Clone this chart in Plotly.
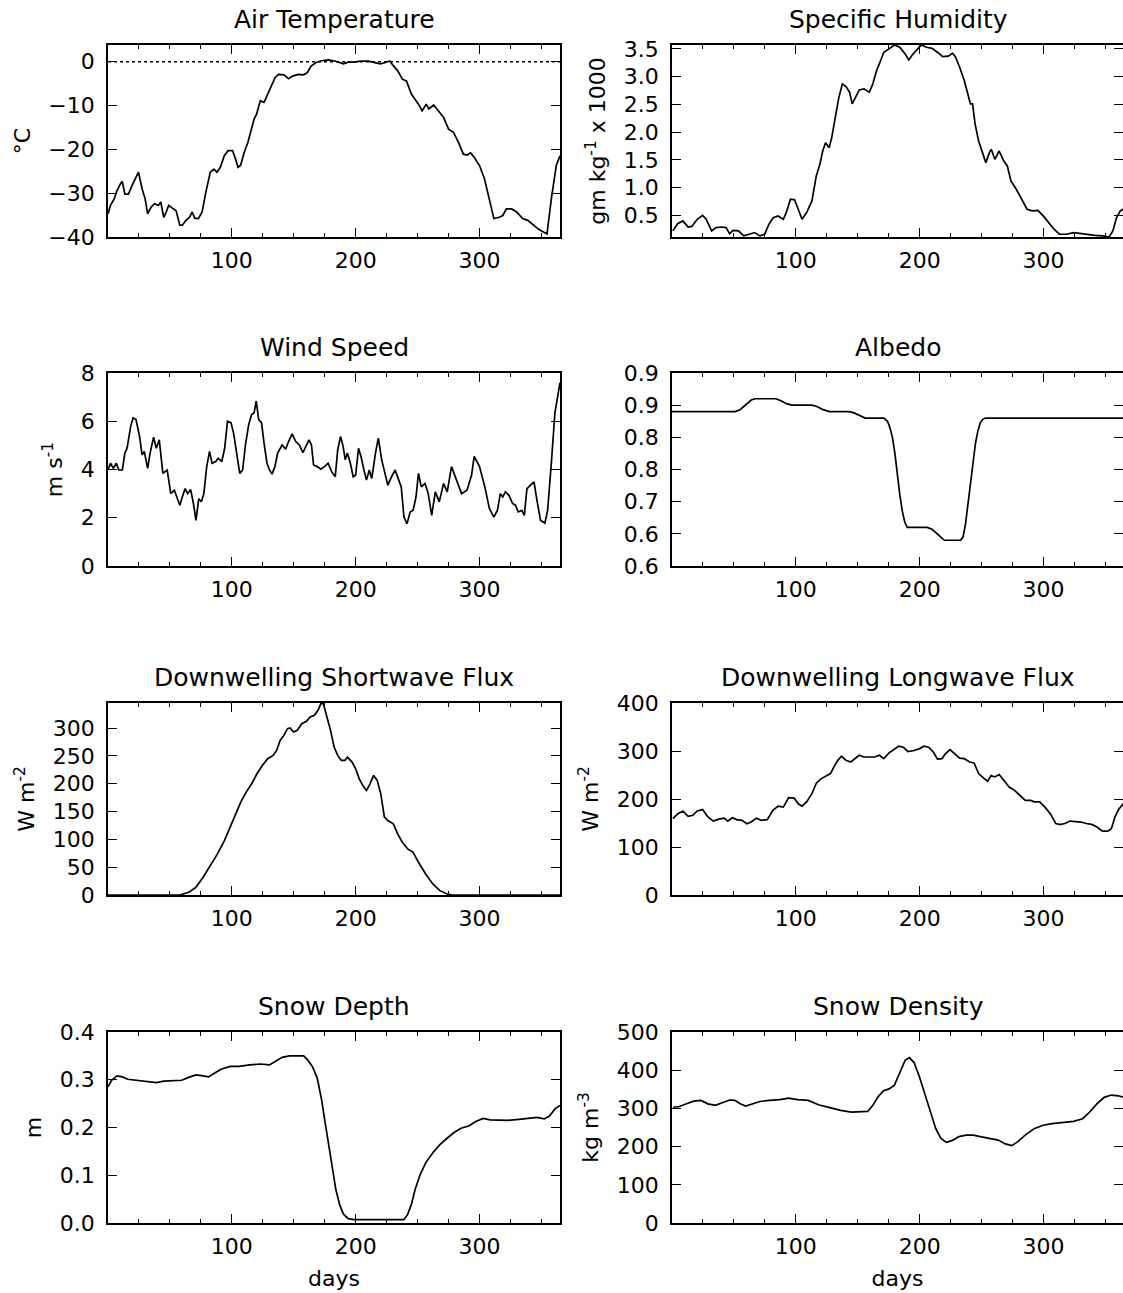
import plotly.graph_objects as go

# ---------------- data ----------------
air_day = [0, 2, 5, 7, 10, 11.5, 13.6, 16.5, 19.4, 23, 24.6, 27.5, 30, 32, 35, 37.7, 40.6, 42.6, 45, 47, 49,
           52, 55, 58, 60, 63, 65.8, 68, 70, 73, 76, 79, 82.6, 85.5, 88, 90.7, 94, 97, 100.6, 103, 105, 107,
           110, 113, 116, 118, 120, 123, 126, 129, 132, 135, 137.7, 142, 145.8, 149, 153.6, 158, 160.9, 164,
           168, 172.5, 178, 184, 190, 194, 198.5, 204, 210, 216, 220, 224, 227.5, 230, 234, 237.7, 241, 245,
           248, 250.7, 253.6, 257, 259, 263, 266.7, 271, 275, 279, 283, 287, 290, 292.8, 295.7, 300, 304, 307,
           311.6, 316, 318.8, 321.7, 326, 330, 334.8, 339, 343.5, 348, 352, 354.5, 358, 362, 365]
air_temp = [-34.7, -32.8, -31.3, -29.6, -27.9, -27.3, -30.2, -30.2, -28.3, -26.4, -25.2, -29.0, -31.3, -34.7,
            -33.1, -32.4, -32.8, -32.0, -35.5, -34.3, -32.8, -33.4, -34.0, -37.3, -37.3, -36.2, -35.5, -34.3,
            -35.7, -35.8, -34.3, -29.8, -25.2, -24.5, -25.2, -24.1, -21.4, -20.3, -20.3, -22.2, -24.1, -23.7,
            -20.7, -18.4, -15.0, -13.1, -12.0, -8.9, -9.3, -7.4, -5.2, -3.6, -2.9, -3.0, -3.9, -3.3, -2.9, -3.0,
            -2.5, -1.0, -0.2, 0.2, 0.4, 0.1, -0.5, -0.1, -0.1, 0.1, 0.1, -0.2, -0.5, -0.2, 0.15, -0.8, -2.1,
            -4.0, -4.4, -7.4, -8.6, -9.7, -11.2, -9.7, -10.8, -9.9, -11.2, -12.7, -15.4, -16.1, -18.4, -21.1,
            -21.3, -20.8, -21.8, -23.7, -26.7, -30.5, -35.8, -35.5, -35.1, -33.6, -33.6, -34.3, -35.8, -36.2,
            -37.3, -38.3, -38.9, -39.3, -31.3, -23.7, -21.5]

hum_day = [0.7, 4.5, 8.8, 13, 16, 20.4, 24.7, 27.6, 32, 35.5, 40.7, 43.6, 46.5, 49.3, 53.7, 58, 62.3, 66.7, 71,
           74.8, 78.3, 81.8, 85.5, 89.9, 92.2, 95.7, 99, 102.3, 105, 108.7, 113, 116.5, 119.4, 121.7, 124,
           126.9, 129, 131.9, 134.8, 137.6, 140.5, 143.4, 145.5, 148.3, 151.2, 155, 159.4, 162.2, 165.2, 168,
           171, 175.3, 179.6, 183.9, 188.3, 191.2, 194, 198.4, 201.3, 205.6, 210, 214.3, 218.6, 223, 226.5,
           228.8, 232.3, 236, 238.9, 241, 242.7, 244.8, 247.6, 250.5, 253.4, 256.3, 257.8, 260.7, 264.2, 267.9,
           270.8, 273.7, 278, 282.4, 286.7, 291, 295.4, 299.8, 304, 308.5, 312.8, 318.6, 324.4, 330, 336,
           341.6, 347.4, 353, 356, 359, 362, 365]
hum_val = [0.22, 0.35, 0.40, 0.29, 0.30, 0.43, 0.50, 0.43, 0.22, 0.28, 0.29, 0.28, 0.17, 0.23, 0.22, 0.13, 0.16,
           0.19, 0.13, 0.16, 0.34, 0.46, 0.49, 0.43, 0.55, 0.79, 0.78, 0.58, 0.43, 0.55, 0.76, 1.21, 1.42, 1.66,
           1.81, 1.72, 1.90, 2.27, 2.63, 2.87, 2.82, 2.72, 2.51, 2.63, 2.76, 2.78, 2.72, 2.87, 3.11, 3.26, 3.44,
           3.50, 3.57, 3.53, 3.41, 3.30, 3.39, 3.50, 3.57, 3.53, 3.51, 3.44, 3.36, 3.37, 3.42, 3.36, 3.17, 2.93,
           2.69, 2.51, 2.51, 2.14, 1.84, 1.66, 1.45, 1.63, 1.69, 1.51, 1.66, 1.48, 1.39, 1.12, 0.97, 0.79, 0.61,
           0.58, 0.59, 0.49, 0.37, 0.25, 0.16, 0.16, 0.19, 0.17, 0.16, 0.14, 0.13, 0.11, 0.22, 0.46, 0.58, 0.62]

wind_day = [0, 2, 4.3, 6.7, 8.7, 11.6, 13.6, 15.4, 18.3, 20.3, 22.6, 25.5, 27.5, 29.3, 32, 34, 36.8, 39, 41.4,
            44.3, 47.8, 50.7, 53.6, 55.7, 58, 60, 62.3, 64.3, 66.7, 69, 71, 73.3, 75.4, 77.4, 79.7, 82, 84, 87,
            89, 91.9, 94.2, 96.5, 99.4, 101.4, 103.8, 106.4, 108.7, 111, 113.6, 116, 118, 119.7, 121.7, 124,
            126, 128.4, 130.4, 132.5, 134.8, 137, 140.6, 143.5, 145.8, 148.7, 151.6, 154.5, 157.4, 159.7, 162.3,
            164.3, 166, 169, 171.9, 174.8, 177.7, 180.6, 183.5, 185.5, 187.8, 189.9, 191.6, 193.3, 195.7, 198,
            200, 202.3, 204.3, 206.7, 208.7, 211, 213, 216, 218.3, 221, 224, 226, 229, 231.9, 234.8, 236.8, 239,
            241.4, 244, 246.4, 248.7, 250.7, 253, 256, 258.6, 261.4, 264.3, 267.5, 271, 273.9, 277.4, 281.2,
            285.5, 289.9, 293.6, 295.7, 300, 304.3, 308, 311.6, 314.5, 316.8, 318.8, 320.9, 323.8, 326.7, 329,
            331.3, 334.2, 336.2, 338.3, 341.2, 344, 346.4, 349.3, 352.8, 355, 358, 360.9, 365]
wind_val = [3.98, 4.26, 4.05, 4.26, 3.98, 3.98, 4.68, 4.88, 5.79, 6.14, 6.07, 5.37, 4.61, 4.75, 4.05, 4.68, 5.34,
            4.88, 5.23, 3.84, 3.98, 3.00, 3.14, 2.86, 2.52, 2.86, 3.21, 3.00, 3.17, 2.59, 1.89, 2.79, 2.66, 3.00,
            4.12, 4.75, 4.26, 4.33, 4.47, 4.33, 4.88, 6.00, 5.93, 5.51, 4.68, 3.84, 3.98, 5.02, 5.86, 6.28, 6.35,
            6.84, 6.07, 5.93, 5.09, 4.26, 3.98, 3.81, 4.12, 4.68, 5.02, 4.84, 5.16, 5.48, 5.16, 5.02, 4.70, 4.95,
            5.23, 5.02, 4.19, 4.12, 4.01, 4.12, 4.26, 3.91, 3.70, 4.82, 5.37, 4.95, 4.40, 4.68, 4.26, 3.70, 3.77,
            4.88, 4.54, 3.98, 3.56, 3.98, 3.63, 4.68, 5.30, 4.40, 3.70, 3.35, 3.70, 3.98, 3.56, 3.28, 2.03, 1.75,
            2.24, 2.31, 2.86, 3.84, 3.28, 3.42, 3.00, 2.10, 3.07, 2.66, 3.42, 3.07, 4.12, 3.56, 3.00, 3.14, 3.77,
            4.54, 4.12, 3.28, 2.38, 2.03, 2.31, 3.00, 2.86, 3.07, 2.93, 2.59, 2.52, 2.24, 2.31, 2.10, 3.21, 3.35,
            3.49, 2.72, 1.89, 1.78, 2.31, 4.26, 6.35, 7.6]

alb_day = [0, 51, 55, 60, 64, 67, 84, 88, 93, 97, 113, 117, 122, 127, 143, 147, 152, 156, 171, 174, 176, 178,
           180, 182, 184, 186, 188, 190, 206, 210, 215, 220, 233, 235, 237, 239, 241, 243, 245, 247, 249, 251,
           253, 365]
alb_val = [0.84, 0.84, 0.843, 0.852, 0.858, 0.86, 0.86, 0.857, 0.852, 0.85, 0.85, 0.848, 0.843, 0.84, 0.84,
           0.838, 0.833, 0.83, 0.83, 0.825, 0.815, 0.80, 0.775, 0.74, 0.71, 0.685, 0.668, 0.66, 0.66, 0.657,
           0.648, 0.64, 0.64, 0.645, 0.665, 0.695, 0.73, 0.76, 0.79, 0.81, 0.823, 0.828, 0.83, 0.83]

sw_day = [0, 58, 65.2, 71, 76.8, 82.6, 88.4, 94, 98.5, 102.9, 107.2, 111.6, 116, 120.3, 124.6, 129, 133.3, 136.2,
          139, 142, 144.9, 147, 149.9, 152.8, 156.5, 160.3, 163.2, 166.7, 169.6, 171.9, 173.9, 176.8, 179.7,
          182.6, 185.5, 188.4, 191.3, 193.3, 197.1, 200, 202.9, 205.8, 208.7, 211.6, 214.5, 217.4, 220.3, 223.2,
          226, 230.4, 233.9, 237.7, 242, 246.4, 250.7, 256.5, 262.3, 268, 273.9, 278.3, 365]
sw_val = [0, 0, 4.8, 13.8, 31.8, 52.8, 73.8, 97.8, 121.8, 145.8, 166.8, 184.8, 199.8, 217.8, 232.8, 244.8, 250.8,
          259.8, 277.8, 286.8, 298.8, 300, 292.8, 295.8, 307.8, 312, 319.8, 322.8, 331.8, 344, 344, 319.8, 295.8,
          265.8, 250.8, 241.8, 241.8, 247.8, 238.8, 226.8, 208.8, 196.8, 187.8, 199.8, 214.8, 205.8, 181.8,
          139.8, 133.8, 127.8, 109.8, 94.8, 82.8, 76.8, 58.8, 37.8, 19.8, 7.8, 1.8, 0, 0]

lw_day = [0.7, 4.5, 8.8, 13, 16.8, 20.4, 24.7, 29, 33.4, 37.8, 42.1, 45, 48.8, 52.3, 56.6, 60.4, 63.8, 68.2, 72,
          76.9, 81.3, 85.6, 89.9, 94.2, 98.6, 102, 105, 108.7, 113, 116.5, 120.3, 124.6, 128, 131, 133.9, 136.8,
          140.5, 144.3, 147.8, 151.2, 155, 159.4, 163.7, 167.5, 171, 175.3, 179.6, 183, 186.8, 190.5, 195.5,
          200, 203.4, 207.2, 211, 214.4, 218, 220.7, 224.5, 228.3, 232.3, 236, 240.4, 243.9, 247.6, 251.4,
          254.8, 257.7, 260.7, 264.2, 267.9, 272.3, 276.6, 281, 285.3, 289.7, 292.5, 296.9, 301.2, 305.6,
          309.9, 313.4, 317.2, 321.5, 325.9, 330.2, 334.5, 338.9, 343.2, 347.6, 351.9, 354.8, 357.7, 360.6,
          365]
lw_val = [159, 169, 175, 164, 166, 175, 178, 162.5, 154, 158, 160, 154, 161, 157, 155.6, 148.6, 152, 160, 155.6,
          157, 176, 185, 183, 203, 202, 190, 185, 194, 211, 233, 242, 249, 253, 268, 280.5, 289, 280.5, 277,
          285, 291, 287.5, 287.5, 287.5, 291, 284, 296, 303, 310, 308, 299, 301, 305, 310, 308, 298, 283, 284,
          294, 303, 294, 285, 284, 277, 275, 253, 244, 237, 249, 246, 251, 240, 225, 218, 208, 197, 197, 194,
          194, 183, 169, 149, 146.5, 149, 154, 153.5, 152, 149, 147, 141.7, 133, 133, 138, 162.5, 178, 192]

depth_day = [0, 2.9, 7.2, 11.6, 15.9, 21.7, 30.4, 39, 45, 53.6, 59.4, 65.2, 71, 76.8, 81.2, 85.5, 91.3, 98.6,
             105.8, 114.5, 123.2, 130.4, 134.8, 140.6, 146.4, 152.2, 158, 161.4, 165.2, 169, 172.5, 175.4, 178.3,
             181.2, 184, 187, 190, 194, 198.5, 239, 242, 245, 248, 252, 256.5, 262.3, 268, 274, 279.7, 285.5,
             291.3, 297, 302.9, 308.7, 314.5, 323, 331.9, 340.6, 346.4, 352.2, 356.5, 360.9, 365]
depth_val = [0.285, 0.299, 0.308, 0.306, 0.301, 0.299, 0.297, 0.294, 0.297, 0.299, 0.299, 0.305, 0.310, 0.308,
             0.306, 0.313, 0.322, 0.328, 0.328, 0.331, 0.333, 0.331, 0.338, 0.347, 0.350, 0.350, 0.350, 0.341,
             0.327, 0.303, 0.258, 0.209, 0.160, 0.112, 0.070, 0.039, 0.019, 0.009, 0.007, 0.007, 0.018, 0.039,
             0.070, 0.101, 0.126, 0.147, 0.164, 0.178, 0.190, 0.199, 0.203, 0.2125, 0.219, 0.216, 0.215, 0.215,
             0.217, 0.219, 0.221, 0.218, 0.224, 0.239, 0.246]

dens_day = [1, 6, 11.7, 17.5, 23.3, 29, 35, 40.7, 46.5, 50.8, 55.1, 59.5, 63.8, 71, 78.3, 87, 94.2, 101.4, 110,
            118.8, 127.5, 136.2, 144.9, 153.6, 158, 162.2, 166.5, 170.9, 175.3, 179.6, 183.9, 188.3, 191.7,
            195.5, 200, 204.2, 208.6, 213, 217.2, 221.6, 226, 231.7, 237.5, 243.3, 249, 256.3, 263.4, 269.2,
            274.4, 279.3, 285.2, 292.4, 299.7, 307, 315.6, 324.3, 331.6, 337.3, 343.1, 349, 354.7, 360.4, 365]
dens_val = [303, 305, 312, 319, 321, 312, 308, 316, 322, 321, 312, 306, 310, 318, 321, 323, 327, 323, 321, 309,
            302, 295, 290.5, 290.5, 292, 308, 331, 346.5, 351, 361, 394, 426, 433, 420, 381, 338, 290.5, 247,
            221.5, 211, 215.5, 226, 230, 230, 226, 221.5, 217, 207, 202.6, 213, 230, 247, 256, 260, 263, 266, 273,
            290.5, 312, 329, 335, 333, 329]

titles = ["Air Temperature", "Specific Humidity", "Wind Speed", "Albedo",
          "Downwelling Shortwave Flux", "Downwelling Longwave Flux", "Snow Depth", "Snow Density"]
y_titles = ["°C", "gm kg<sup>-1</sup> x 1000", "m s<sup>-1</sup>", "",
            "W m<sup>-2</sup>", "W m<sup>-2</sup>", "m", "kg m<sup>-3</sup>"]
x_ticks = [100, 200, 300]
albedo_ticks = [0.60, 0.65, 0.70, 0.75, 0.80, 0.85, 0.90]
albedo_ticktext = ["0.6", "0.6", "0.7", "0.8", "0.8", "0.9", "0.9"]

series = [(air_day, air_temp), (hum_day, hum_val), (wind_day, wind_val), (alb_day, alb_val),
          (sw_day, sw_val), (lw_day, lw_val), (depth_day, depth_val), (dens_day, dens_val)]

y_axes = [
    dict(range=[-40, 3.8], tickvals=[-40, -30, -20, -10, 0]),
    dict(range=[0.11, 3.57], tickvals=[0.5, 1.0, 1.5, 2.0, 2.5, 3.0, 3.5], tickformat=".1f"),
    dict(range=[0, 8], tickvals=[0, 2, 4, 6, 8]),
    dict(range=[0.6, 0.9], tickvals=albedo_ticks, ticktext=albedo_ticktext),
    dict(range=[0, 345], tickvals=[0, 50, 100, 150, 200, 250, 300]),
    dict(range=[0, 400], tickvals=[0, 100, 200, 300, 400]),
    dict(range=[0, 0.4], tickvals=[0, 0.1, 0.2, 0.3, 0.4], tickformat=".1f"),
    dict(range=[0, 500], tickvals=[0, 100, 200, 300, 400, 500]),
]

# ---------------- layout ----------------
W, H = 1123, 1293
FONT = "DejaVu Sans"
col_px = [(108, 560), (672, 1123)]
row_px = [(45, 237), (373, 566), (703, 895), (1032, 1223)]
px_per_day = (560 - 108) / 365.0

fig = go.Figure()
annotations = []
layout = dict(
    width=W, height=H, margin=dict(l=0, r=0, t=0, b=0, autoexpand=False),
    paper_bgcolor="white", plot_bgcolor="white", showlegend=False,
    font=dict(family=FONT, size=22, color="black"),
)

for i, (xs, ys) in enumerate(series):
    row, col = divmod(i, 2)
    sfx = "" if i == 0 else str(i + 1)
    x0, x1 = col_px[col]
    t0, t1 = row_px[row]
    xdom = [x0 / W, x1 / W]
    ydom = [1 - t1 / H, 1 - t0 / H]
    xmax = (x1 - x0) / px_per_day
    fig.add_trace(go.Scatter(x=xs, y=ys, mode="lines", line=dict(color="black", width=1.7),
                             xaxis="x" + sfx, yaxis="y" + sfx, hoverinfo="skip"))
    xa = dict(domain=xdom, anchor="y" + sfx, range=[0, xmax], tickmode="array", tickvals=x_ticks,
              ticks="inside", ticklen=9, tickwidth=1.3, tickcolor="black",
              showline=True, linecolor="black", linewidth=1.6, mirror="ticks",
              showgrid=False, zeroline=False, ticklabelstandoff=3, automargin=False,
              tickfont=dict(size=22, family=FONT),
              minor=dict(ticks="inside", ticklen=4, dtick=25, tick0=0, tickcolor="black", showgrid=False))
    if row == 3:
        xa["title"] = dict(text="days", font=dict(size=22, family=FONT), standoff=12)
    ya = dict(domain=ydom, anchor="x" + sfx, tickmode="array",
              ticks="inside", ticklen=9, tickwidth=1.3, tickcolor="black",
              showline=True, linecolor="black", linewidth=1.6, mirror="ticks",
              showgrid=False, zeroline=False, ticklabelstandoff=7, automargin=False,
              tickfont=dict(size=22, family=FONT),
              title=dict(text=y_titles[i], font=dict(size=22, family=FONT), standoff=12))
    ya.update(y_axes[i])
    layout["xaxis" + sfx] = xa
    layout["yaxis" + sfx] = ya
    cx = (x0 + (x0 + 452)) / 2 / W
    annotations.append(dict(text=titles[i], x=cx, xref="paper", y=ydom[1], yref="paper", xanchor="center",
                            yanchor="bottom", yshift=9, showarrow=False,
                            font=dict(size=25, family=FONT, color="black")))

layout["annotations"] = annotations
layout["shapes"] = [dict(type="line", xref="x domain", yref="y", x0=0, x1=1, y0=0, y1=0,
                         line=dict(color="black", width=1.5, dash="dot"))]
fig.update_layout(**layout)

fig.write_html("out.html", config={"displayModeBar": False},
               post_script="document.body.style.margin='0';document.body.style.overflow='hidden';")
